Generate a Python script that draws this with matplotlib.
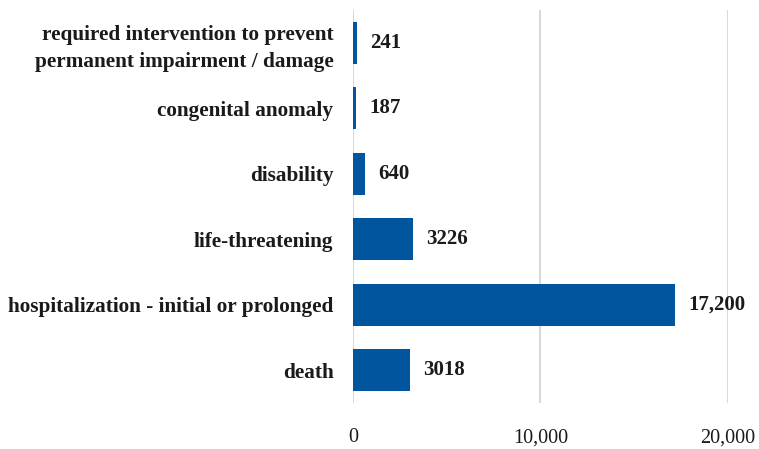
import matplotlib
matplotlib.use("Agg")
import matplotlib.pyplot as plt

categories = ["death", "hospitalization - initial or prolonged", "life-threatening",
              "disability", "congenital anomaly",
              "required intervention to prevent\npermanent impairment / damage"]
counts = [3018, 17200, 3226, 640, 187, 241]
value_labels = ["3018", "17,200", "3226", "640", "187", "241"]
xticks = [0, 10000, 20000]
xtick_labels = ["0", "10,000", "20,000"]

plt.rcParams["font.family"] = ["Liberation Serif", "DejaVu Serif"]

fig = plt.figure(figsize=(7.59, 4.49), dpi=100)
ax = fig.add_axes([0.465, 0.102, 0.494, 0.876])

ypos = range(len(categories))
ax.barh(ypos, counts, height=0.64, color="#00559e", zorder=3)
for y, v, lab in zip(ypos, counts, value_labels):
    ax.text(v + 700, y, lab, va="center", ha="left", fontsize=15,
            fontweight="bold", color="#1a1a1a")

ax.set_xlim(0, 20000)
ax.set_ylim(-0.5, len(categories) - 0.5)
ax.set_yticks(list(ypos))
ax.set_yticklabels(categories, fontsize=15.3, fontweight="bold", color="#1a1a1a",
                   linespacing=1.45)
ax.set_xticks(xticks)
ax.set_xticklabels(xtick_labels, fontsize=14.5, color="#1a1a1a")
ax.tick_params(length=0)
ax.tick_params(axis="y", pad=14)
ax.tick_params(axis="x", pad=18)
ax.xaxis.grid(True, color="#d9d9d9", linewidth=1.5, zorder=0)
for s in ax.spines.values():
    s.set_visible(False)

fig.savefig("out.png", dpi=100)
